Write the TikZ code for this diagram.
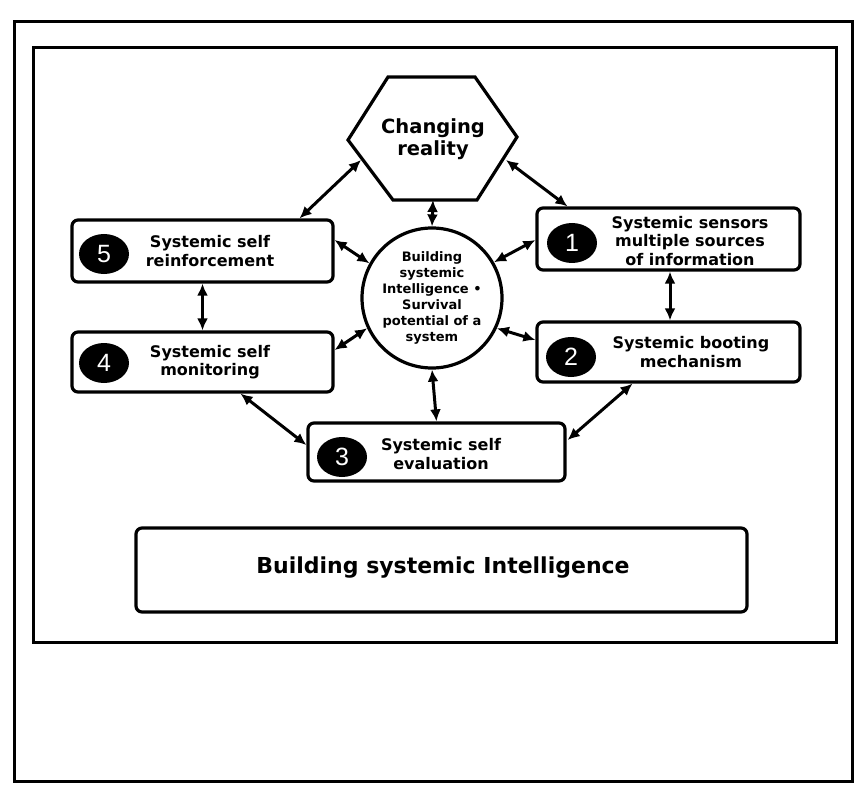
\documentclass[tikz,border=0pt]{standalone}
\usepackage{fontspec}
\setmainfont{DejaVu Sans}
\newfontfamily\numfont{Liberation Sans}
\usetikzlibrary{arrows.meta,shapes.geometric,calc}
\tikzset{
  frame/.style={line width=3pt},
  stepbox/.style={draw,line width=3.2pt,rounded corners=6pt,fill=white},
  boxtext/.style={align=center,font=\bfseries\fontsize{16}{18.5}\selectfont},
  numdot/.style={ellipse,fill=black,minimum width=50pt,minimum height=40pt,inner sep=0pt,
    text=white,font=\numfont\fontsize{25}{25}\selectfont},
  dbl/.style={line width=3pt,{Latex[length=12pt,width=11pt]}-{Latex[length=12pt,width=11pt]}}
}
\begin{document}
\begin{tikzpicture}[x=1pt,y=-1pt]
\useasboundingbox (0,0) rectangle (856,786);
% frames
\draw[frame] (14,22) rectangle (852,781);
\draw[frame] (33,48) rectangle (836,642);
% hexagon
\draw[line width=3.2pt,fill=white] (388,77) -- (475,77) -- (517,137) -- (477,200) -- (393,200) -- (348,140) -- cycle;
\node[align=center,font=\bfseries\fontsize{19.5}{22}\selectfont] (hx) at (433,139) {Changing\\reality};
\coordinate (hxl) at (361,160);
\coordinate (hxr) at (506,160);
\coordinate (hxb) at (433,200);
% centre circle
\node[circle,draw,line width=3.2pt,minimum size=140pt,inner sep=0pt,align=center,
  font=\bfseries\fontsize{13}{16}\selectfont] (c) at (432,298)
  {Building\\systemic\\Intelligence \textbullet\\Survival\\potential of a\\system};
% boxes
\node[stepbox,minimum width=263pt,minimum height=62pt] (b1) at (668.5,239) {};
\node[stepbox,minimum width=263pt,minimum height=60pt] (b2) at (668.5,352) {};
\node[stepbox,minimum width=261pt,minimum height=62pt] (b5) at (202.5,251) {};
\node[stepbox,minimum width=261pt,minimum height=60pt] (b4) at (202.5,362) {};
\node[stepbox,minimum width=257pt,minimum height=58pt] (b3) at (436.5,452) {};
\node[stepbox,minimum width=611pt,minimum height=84pt] (bt) at (441.5,570) {};
% texts
\node[boxtext] (t1) at (690,241) {Systemic sensors\\multiple sources\\of information};
\node[boxtext] (t2) at (691,352) {Systemic booting\\mechanism};
\node[boxtext] (t5) at (210,251) {Systemic self\\reinforcement};
\node[boxtext] (t4) at (210,362) {Systemic self\\monitoring};
\node[boxtext] (t3) at (441,454) {Systemic self\\evaluation};
\node[font=\bfseries\fontsize{22}{26}\selectfont] (tt) at (443,568) {Building systemic Intelligence};
% numbers
\node[numdot] (n1) at (572,243) {1};
\node[numdot] (n2) at (571,357) {2};
\node[numdot] (n5) at (104,254) {5};
\node[numdot] (n4) at (104,363) {4};
\node[numdot] (n3) at (342,457) {3};
% connectors
\draw[dbl] (hxl) -- ($(b5.north)+(97,0)$);
\draw[dbl] (hxr) -- ($(b1.north)+(-101,0)$);
\draw[dbl] (hxb) -- (c.north);
\draw[dbl] ($(b5.east)+(0,-11)$) -- (c.151);
\draw[dbl] ($(b1.west)+(0,1)$) -- (c.30);
\draw[dbl] ($(b4.east)+(0,-12)$) -- (c.205);
\draw[dbl] ($(b2.west)+(0,-12)$) -- (c.335);
\draw[dbl] (c.south) -- (b3.north);
\draw[dbl] (b5.south) -- (b4.north);
\draw[dbl] ($(b1.south)+(1.5,0)$) -- ($(b2.north)+(1.5,0)$);
\draw[dbl] ($(b4.south)+(38,0)$) -- ($(b3.west)+(0,-7)$);
\draw[dbl] ($(b2.south)+(-36,0)$) -- ($(b3.east)+(1,-12)$);
\end{tikzpicture}
\end{document}
